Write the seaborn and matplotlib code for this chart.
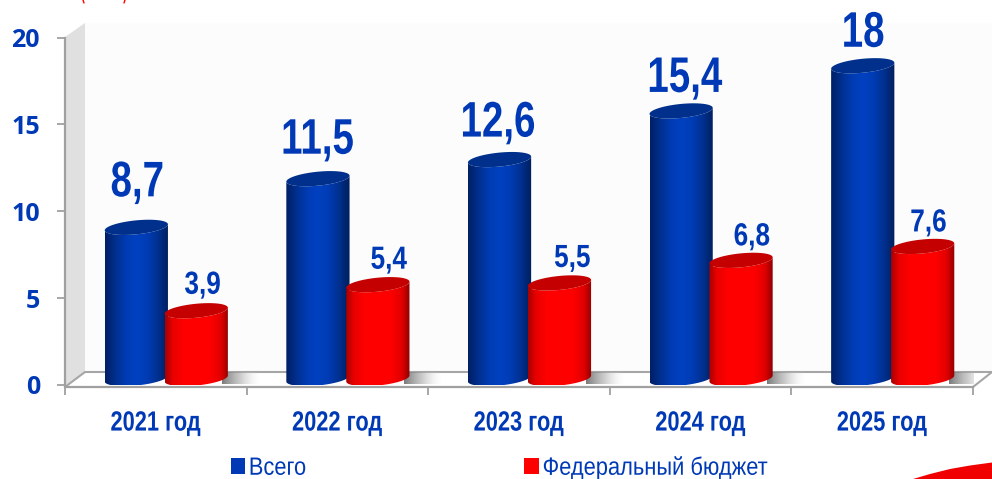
import numpy as np
import pandas as pd
import matplotlib
matplotlib.use("Agg")
import matplotlib.pyplot as plt
import matplotlib.patheffects as pe
import seaborn as sns
from matplotlib.colors import LinearSegmentedColormap
from matplotlib.patches import Patch, Polygon
from matplotlib.transforms import Affine2D

years = ["2021 год", "2022 год", "2023 год", "2024 год", "2025 год"]
total = [8.7, 11.5, 12.6, 15.4, 18]
federal = [3.9, 5.4, 5.5, 6.8, 7.6]
series_names = ["Всего", "Федеральный бюджет"]

# label nudges in pixels (dx from bar centre, gap above the cap), read per bar
total_dx = [1.5, 0, -1, 4, 1]
total_pad = [31, 25, 23, 19, 19]
federal_dx = [6.5, 11, 13, 11, 6]
federal_pad = [17, 16, 16, 15, 15]

BLUE = "#0039b5"
RED = "#ff0000"
TEXT = "#0039b5"

W, H = 992, 479
LEFT, RIGHT, TOP, BOTTOM = 65, 973, 37.5, 385
PX_X = (RIGHT - LEFT) / 5
PX_Y = (BOTTOM - TOP) / 20

sns.set_theme(style="white")
plt.rcParams["font.family"] = ["Liberation Sans"]


class Narrow(pe.AbstractPathEffect):
    # the reference uses a narrow face, so squeeze glyphs sideways
    def __init__(self, sx=0.82, keep_left=False):
        super().__init__()
        self.sx = sx
        self.keep_left = keep_left

    def draw_path(self, renderer, gc, tpath, affine, rgbFace=None):
        move = 0 if self.keep_left else tpath.get_extents().width * (1 - self.sx) / 2
        squeeze = Affine2D().scale(self.sx, 1).translate(move, 0)
        renderer.draw_path(gc, tpath, squeeze + affine, rgbFace)


df = pd.DataFrame({
    "year": years * 2,
    "value": total + federal,
    "series": [series_names[0]] * 5 + [series_names[1]] * 5,
})

fig = plt.figure(figsize=(W / 100, H / 100), dpi=100, facecolor="white")

# ==== walls and floor, in pixel coordinates ====
bg = fig.add_axes([0, 0, 1, 1], zorder=0)
bg.set_xlim(0, W)
bg.set_ylim(H, 0)
bg.axis("off")
bg.add_patch(Polygon([(85, 23), (W, 23), (W, 372), (85, 372)], fc="#fcfcfc", ec="none"))
bg.add_patch(Polygon([(LEFT, 37), (85, 23), (85, 372), (LEFT, 386)], fc="#e0e0e0", ec="none"))
bg.add_patch(Polygon([(LEFT, 387), (85, 372), (W, 372), (RIGHT, 387)], fc="white", ec="none"))
bg.plot([LEFT, 85, W], [387, 372, 372], color="#a6a6a6", lw=1.5)
bg.plot([RIGHT, W], [387, 372], color="#a6a6a6", lw=1.5)
# red pieces of the slide behind the chart
bg.add_patch(Polygon([(913, 479), (930, 474), (950, 469), (970, 465.5), (992, 462.5), (992, 479)], fc="#f00000", ec="none"))
bg.plot([83, 84], [0, 3], color="red", lw=1)
bg.plot([124, 125], [3, 0], color="red", lw=1)

# ==== bars ====
ax = fig.add_axes([LEFT / W, 1 - BOTTOM / H, (RIGHT - LEFT) / W, (BOTTOM - TOP) / H], zorder=1)
ax.set_facecolor("none")

depth = 6.5 / PX_Y
shift = 10.5 / PX_X
sns.barplot(
    data=df, x="year", y="value", hue="series", order=years, hue_order=series_names,
    palette=[BLUE, RED], width=0.66, gap=-0.055, bottom=depth, legend=False, ax=ax,
)
ax.set_xlim(-0.5, 4.5)
ax.set_ylim(0, 20)

blue_map = LinearSegmentedColormap.from_list("b", ["#001f66", "#00308f", "#003cb4", "#0040c0", "#003cb4", "#00308f", "#001f5c"])
red_map = LinearSegmentedColormap.from_list("r", [(0, "#a80000"), (0.12, "#e80000"), (0.3, "#ff0000"), (0.7, "#ff0000"),
                                                  (0.88, "#e00000"), (1, "#900000")])
shadow_map = LinearSegmentedColormap.from_list("s", [(0.45, 0.45, 0.45, 0.95), (0.65, 0.65, 0.65, 0.55), (0.9, 0.9, 0.9, 0.0)])
ramp = np.linspace(0, 1, 128).reshape(1, -1)
t = np.linspace(0, 2 * np.pi, 121)
semi = 7 / PX_Y
tilt = 3 / PX_Y


def ellipse(cx, cy, half, ts):
    return np.column_stack([cx + half * np.cos(ts), cy + semi * np.sin(ts) + tilt * np.cos(ts)])


def draw_cylinder(bar, cmap, cap_color, z):
    bar.set_x(bar.get_x() + shift)
    bar.set_alpha(0)
    x0, w = bar.get_x(), bar.get_width()
    y0, y1 = bar.get_y(), bar.get_y() + bar.get_height()
    cx, half = x0 + w / 2, w / 2
    # body: lower half of the base ellipse, then back along the top one
    lower = np.linspace(np.pi, 2 * np.pi, 60)
    outline = np.vstack([ellipse(cx, y0, half, lower), ellipse(cx, y1, half, lower[::-1])])
    clip = Polygon(outline, transform=ax.transData, fc="none", ec="none")
    ax.add_patch(clip)
    body = ax.imshow(ramp, extent=(x0, x0 + w, y0 - 2 * semi, y1 + 2 * semi), cmap=cmap, aspect="auto", zorder=z)
    body.set_clip_path(clip)
    ax.add_patch(Polygon(ellipse(cx, y1, half, t), fc=cap_color, ec="none", zorder=z + 0.1, clip_on=False))


bars = list(ax.patches)
for i in range(5):
    draw_cylinder(bars[i], blue_map, "#00308c", 3)
    draw_cylinder(bars[i + 5], red_map, "#c40000", 4)
    # floor shadow to the right of the pair
    r = bars[i + 5].get_x() + bars[i + 5].get_width()
    ax.imshow(ramp, extent=(r - 0.03, r + 32 / PX_X, 0.05, 0.72), cmap=shadow_map, aspect="auto", zorder=1.5)

ax.set_xlim(-0.5, 4.5)
ax.set_ylim(0, 20)

# ==== value labels ====
for i in range(5):
    b = bars[i]
    ax.annotate(f"{total[i]}".replace(".", ","), (b.get_x() + b.get_width() / 2, b.get_y() + b.get_height()),
                xytext=(total_dx[i] * 0.72, total_pad[i] * 0.72), textcoords="offset points", ha="center",
                va="baseline", fontsize=36, fontweight="bold", color=TEXT, annotation_clip=False, zorder=6,
                path_effects=[Narrow(0.77)])
    b = bars[i + 5]
    ax.annotate(f"{federal[i]}".replace(".", ","), (b.get_x() + b.get_width() / 2, b.get_y() + b.get_height()),
                xytext=(federal_dx[i] * 0.72, federal_pad[i] * 0.72), textcoords="offset points", ha="center",
                va="baseline", fontsize=23, fontweight="bold", color=TEXT, annotation_clip=False, zorder=6,
                path_effects=[Narrow()])

# ==== axes ====
sns.despine(ax=ax, top=True, right=True)
for side in ["left", "bottom"]:
    ax.spines[side].set_color("#a0a0a0")
    ax.spines[side].set_linewidth(1.6)
ax.spines["bottom"].set_position(("outward", 1.4))
ax.set_xlabel("")
ax.set_ylabel("")
ax.set_yticks([0, 5, 10, 15, 20])
ax.set_yticklabels(["0", "5", "10", "15", "20"], family="Open Sans", fontweight="bold", fontsize=18, color=TEXT)
ax.set_xticks(np.arange(-0.5, 5, 1))
ax.set_xticklabels([])
ax.set_xticks(range(5), years, minor=True, fontsize=20, fontweight="bold", color=TEXT)
for label in ax.get_xticklabels(minor=True):
    label.set_path_effects([Narrow(0.785)])
ax.tick_params(axis="y", left=True, length=6, width=1.3, color="#a0a0a0", pad=12)
ax.tick_params(axis="x", which="major", bottom=True, length=6, width=1.3, color="#a0a0a0")
ax.tick_params(axis="x", which="minor", bottom=False, pad=13)

# ==== legend ====
handles = [Patch(fc=BLUE, ec="none"), Patch(fc=RED, ec="none")]
leg = fig.legend(handles, series_names, loc="center", bbox_to_anchor=(0.5194, 0.024), ncol=2, frameon=False,
                 fontsize=18, labelcolor=TEXT, handlelength=0.58, handleheight=0.58, handletextpad=0.15,
                 columnspacing=8.4, borderpad=0, borderaxespad=0)
for text in leg.get_texts():
    text.set_path_effects([Narrow(0.875, keep_left=True)])

fig.savefig("out.png", dpi=100, facecolor="white")
